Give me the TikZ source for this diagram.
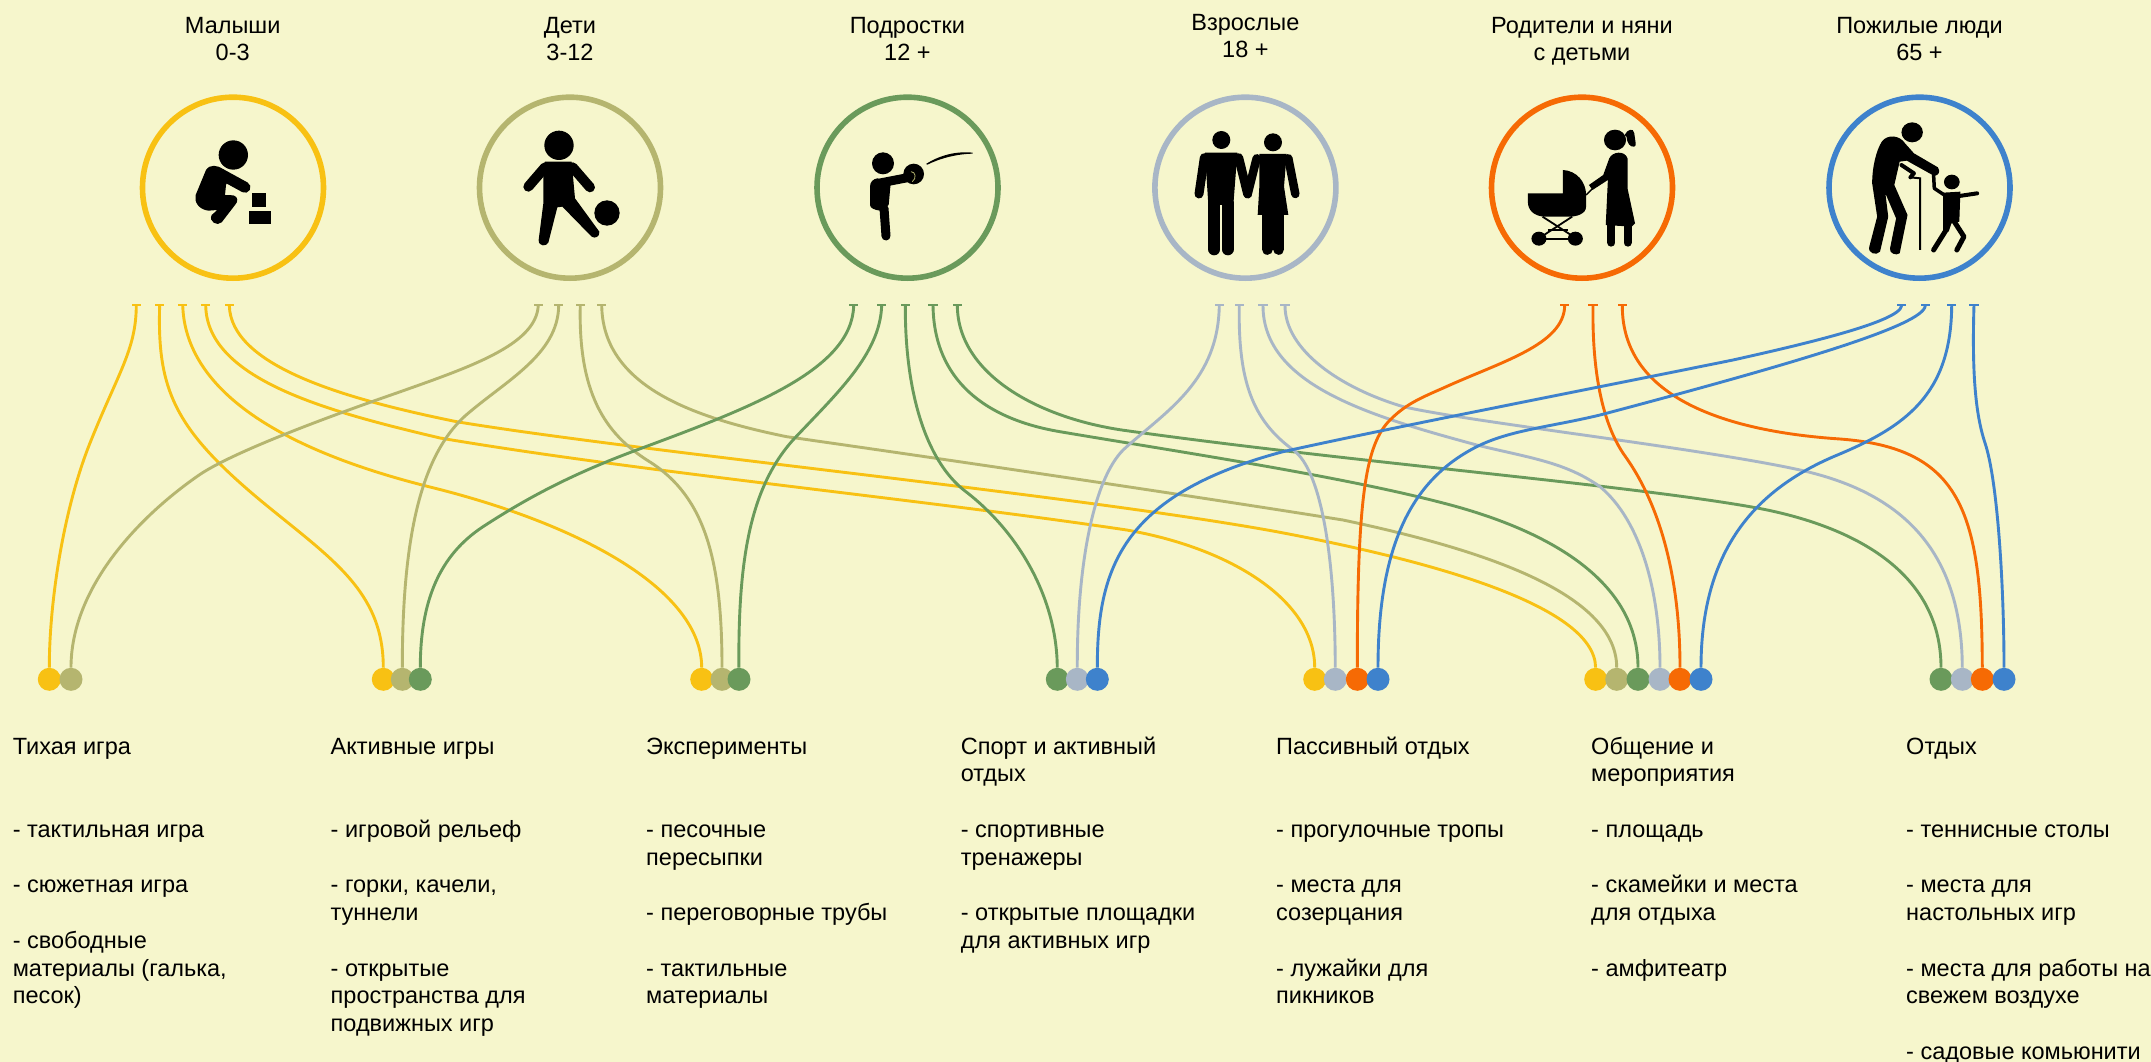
\documentclass[tikz,border=0pt]{standalone}
\usepackage{fontspec}
\setmainfont{Liberation Sans}
\definecolor{bgc}{HTML}{F6F6CC}
\definecolor{cY}{HTML}{F8C113}
\definecolor{cO}{HTML}{B5B56F}
\definecolor{cG}{HTML}{6A9A5B}
\definecolor{cS}{HTML}{A8B6C6}
\definecolor{cR}{HTML}{F66A04}
\definecolor{cB}{HTML}{3E82CC}
\tikzset{
  ring/.style={circle,draw=#1,line width=5.6pt,minimum size=181pt,inner sep=0pt},
  dotn/.style={circle,fill=#1,minimum size=23pt,inner sep=0pt},
  teen/.style={rectangle,fill=#1,minimum width=9.5pt,minimum height=2pt,inner sep=0pt},
  conn/.style={draw=#1,line width=2.9pt,line join=round},
  head/.style={align=center,font=\fontsize{23.5}{27.5}\selectfont,inner sep=0pt,anchor=north},
  col/.style={align=left,font=\fontsize{23.5}{27.75}\selectfont,inner sep=0pt,anchor=north west},
  lim/.style={draw=black,line cap=round,line join=round,line width=#1}
}
\newcommand{\fs}{\rule{0pt}{20pt}}
\begin{document}
\begin{tikzpicture}[x=1pt,y=-1pt]
\path[fill=bgc] (0,0) rectangle (2151,1062);
\useasboundingbox (0,0) rectangle (2151,1062);
% headers
\node[head] (h1) at (232.7,13) {\fs Малыши\\0-3};
\node[head] (h2) at (570,13) {\fs Дети\\3-12};
\node[head] (h3) at (907.4,13) {\fs Подростки\\12 +};
\node[head] (h4) at (1245.4,10) {\fs Взрослые\\18 +};
\node[head] (h5) at (1582,13) {\fs Родители и няни\\с детьми};
\node[head] (h6) at (1919.5,13) {\fs Пожилые люди\\65 +};
% rings
\node[ring=cY] (c1) at (233,187.7) {};
\node[ring=cO] (c2) at (570,187.7) {};
\node[ring=cG] (c3) at (907.5,187.7) {};
\node[ring=cS] (c4) at (1245.4,187.7) {};
\node[ring=cR] (c5) at (1582,187.7) {};
\node[ring=cB] (c6) at (1919.5,187.7) {};
% baby
\begin{scope}[shift={(130,90)},x=.33333pt,y=-.33333pt]
\fill (310,195) circle[radius=44];
\draw[lim=11] (272,252)--(345,292);
\fill (228,240) .. controls (240,222) and (262,225) .. (280,238) -- (300,260) -- (288,285) -- (285,315) -- (310,316) .. controls (325,320) and (325,335) .. (315,345) -- (275,397) .. controls (262,410) and (235,395) .. (245,375) -- (262,360) -- (235,362) .. controls (205,358) and (192,335) .. (197,315) -- cycle;
\fill (367,310) rectangle (408,352);
\fill (356,362) rectangle (423,403);
% child
\fill (1287,166) circle[radius=44];
\draw[lim=10] (1245,232)--(1195,290);
\draw[lim=10] (1328,232)--(1380,292);
\fill (1245,215) -- (1325,215) -- (1335,325) -- (1408,425) .. controls (1410,440) and (1395,447) .. (1385,440) -- (1297,350) -- (1282,352) -- (1255,458) .. controls (1250,470) and (1225,470) .. (1226,450) -- (1240,340) -- (1240,250) -- cycle;
\fill (1431,369) circle[radius=38];
\end{scope}
% teen, adults
\begin{scope}[shift={(800,90)},x=.33333pt,y=-.33333pt]
\fill (249,220) circle[radius=33];
\fill (341,252) circle[radius=31];
\draw[lim=9] (235,280)--(328,262);
\draw[cO,line width=.8pt] (333,245) .. controls (347,245) and (350,265) .. (337,275);
\fill (232,265) -- (272,280) -- (266,345) -- (240,362) .. controls (225,360) and (210,355) .. (210,345) -- (210,290) .. controls (210,275) and (220,267) .. (232,265) -- cycle;
\draw[lim=9] (252,355)--(258,438);
\fill (378,222) .. controls (420,195) and (470,183) .. (518,188) -- (518,191) .. controls (470,192) and (420,205) .. (382,224) -- cycle;
% man
\fill (1264,150) circle[radius=27];
\fill (1215,188) -- (1312,188) -- (1300,345) -- (1225,345) -- cycle;
\draw[lim=9] (1213,203)--(1197,312);
\draw[lim=9] (1316,203)--(1343,312);
\draw[lim=12] (1243,340)--(1243,478);
\draw[lim=12] (1283,340)--(1283,478);
% woman
\fill (1419,157) circle[radius=27];
\draw[lim=8.5] (1370,205)--(1343,312);
\draw[lim=8.5] (1465,205)--(1486,312);
\fill (1378,192)--(1460,192)--(1452,290)--(1465,375)--(1373,375)--(1378,290)--cycle;
\draw[lim=11] (1402,375)--(1402,478);
\draw[lim=11] (1436,375)--(1436,478);
\end{scope}
% mother and pensioner
\begin{scope}[shift={(1480,90)},x=.35714pt,y=-.33333pt]
\fill (378,150) circle[radius=31];
\fill (405,135) .. controls (412,118) and (430,112) .. (432,130) .. controls (433,145) and (440,170) .. (432,170) .. controls (420,172) and (412,160) .. (410,140) -- cycle;
\fill (362,205) .. controls (370,185) and (405,180) .. (413,205) -- (413,295) -- (434,400) -- (425,410) -- (352,405) -- (358,270) -- (315,300) -- (305,285) -- (345,255) -- cycle;
\draw[lim=8] (368,405)--(368,458);
\draw[lim=8] (413,405)--(413,458);
\fill (134,310) -- (232,310) -- (232,240) .. controls (270,242) and (297,275) .. (297,315) -- (297,350) .. controls (297,372) and (270,380) .. (250,380) -- (180,380) .. controls (150,378) and (134,360) .. (134,335) -- cycle;
\draw[black,line width=1.4pt] (297,315) -- (335,275);
\fill (165,446) circle[radius=21];
\fill (267,446) circle[radius=21];
\draw[black,line width=1.8pt] (175,380) -- (262,440);
\draw[black,line width=1.8pt] (258,380) -- (172,440);
\draw[black,line width=1.8pt] (165,446) -- (267,446);
\draw[black,line width=1.8pt] (190,420) -- (245,420);
% pensioner
\fill (1210,127) circle[radius=30];
\fill (1125,155) .. controls (1140,132) and (1175,135) .. (1190,160) -- (1215,190) -- (1282,232) .. controls (1290,245) and (1285,255) .. (1272,258) -- (1195,212) -- (1175,215) -- (1160,285) -- (1197,375) -- (1175,490) .. controls (1165,498) and (1145,490) .. (1148,475) -- (1165,385) -- (1135,310) -- (1143,380) -- (1120,485) .. controls (1110,498) and (1085,490) .. (1090,470) -- (1112,380) -- (1098,280) .. controls (1098,230) and (1110,180) .. (1125,155) -- cycle;
\draw[lim=4] (1180,225) -- (1215,250) -- (1205,262);
\draw[black,line width=2pt] (1205,262) -- (1232,265) -- (1232,480);
\draw[lim=3.5] (1270,255) -- (1272,295) -- (1300,315);
\fill (1321,276) circle[radius=22];
\draw[lim=4] (1342,318)--(1392,310);
\fill (1297,308) -- (1345,305) -- (1342,395) -- (1320,400) -- (1312,425) -- (1297,425) -- cycle;
\draw[lim=5] (1305,420)--(1270,480);
\draw[lim=5] (1328,395)--(1355,440)--(1335,480);
\end{scope}
% dots
\foreach \n/\xx/\cc in {d1/49.3/cY,d2/71/cO,d3/383.3/cY,d4/402.3/cO,d5/420.3/cG,d6/701.7/cY,d7/722/cO,d8/739/cG,d9/1057.3/cG,d10/1077.3/cS,d11/1097.3/cB,d12/1314.7/cY,d13/1335.3/cS,d14/1357.3/cR,d15/1378/cB,d16/1595.7/cY,d17/1616.7/cO,d18/1638/cG,d19/1660/cS,d20/1680/cR,d21/1701/cB,d22/1941/cG,d23/1962.3/cS,d24/1982.3/cR,d25/2004/cB}
  {\node[dotn=\cc] (\n) at (\xx,679.3) {};}
% tees
\foreach \n/\xx/\cc in {y1/136.3/cY,y2/159.7/cY,y3/182.7/cY,y4/205.7/cY,y5/229.3/cY,o1/538.3/cO,o2/558.7/cO,o3/580.3/cO,o4/601.7/cO,g1/853.7/cG,g2/881.7/cG,g3/905.3/cG,g4/933/cG,g5/957.3/cG,s1/1219.3/cS,s2/1239.3/cS,s3/1263/cS,s4/1285/cS,r1/1564.7/cR,r2/1593/cR,r3/1622.3/cR,b1/1901.7/cB,b2/1925.3/cB,b3/1951.7/cB,b4/1974/cB}
  {\node[teen=\cc] (\n) at (\xx,304.5) {};}
% connectors
\draw[conn=cY] (y1) .. controls (136,350) and (118,373) .. (90,443) .. controls (64,508) and (49.3,600) .. (d1);
\draw[conn=cY] (y2) .. controls (157,390) and (175,429) .. (260,500) .. controls (330,558) and (383.3,590) .. (d3);
\draw[conn=cY] (y3) .. controls (185,375) and (250,442) .. (430,487) .. controls (580,524) and (701.7,590) .. (d6);
\draw[conn=cY] (y4) .. controls (207,380) and (330,412) .. (440,438) .. controls (640,472) and (927,500) .. (1126.7,530) .. controls (1230,548) and (1314.7,600) .. (d12);
\draw[conn=cY] (y5) .. controls (231,365) and (340,398) .. (456.7,421.7) .. controls (640,452) and (1076,495) .. (1276.7,531.7) .. controls (1427,560) and (1595,605) .. (d16);
\draw[conn=cO] (o1) .. controls (536,345) and (470,367) .. (396.7,393) .. controls (310,423) and (225,456) .. (196.7,476.7) .. controls (135,520) and (71,590) .. (d2);
\draw[conn=cO] (o2) .. controls (558,355) and (505,381) .. (465,416) .. controls (420,457) and (402.3,540) .. (d4);
\draw[conn=cO] (o3) .. controls (578,400) and (610,437) .. (650,462) .. controls (705,497) and (722,560) .. (d7);
\draw[conn=cO] (o4) .. controls (603,385) and (690,417) .. (786.7,436.7) .. controls (950,460) and (1180,494) .. (1343,520) .. controls (1470,547) and (1616.7,590) .. (d17);
\draw[conn=cG] (g1) .. controls (852,370) and (750,408) .. (636.7,450) .. controls (575,473) and (530,496) .. (483,526.7) .. controls (440,555) and (420.3,600) .. (d5);
\draw[conn=cG] (g2) .. controls (880,355) and (835,395) .. (793,440) .. controls (750,488) and (738,560) .. (d8);
\draw[conn=cG] (g3) .. controls (905,390) and (925,460) .. (965,491) .. controls (1020,533) and (1057,600) .. (d9);
\draw[conn=cG] (g4) .. controls (934,380) and (985,419) .. (1060,431.7) .. controls (1180,452) and (1340,476) .. (1443,503) .. controls (1525,524) and (1638,570) .. (d18);
\draw[conn=cG] (g5) .. controls (958,375) and (1040,419) .. (1126.7,430.7) .. controls (1350,462) and (1620,484) .. (1750,506.7) .. controls (1850,524) and (1941,570) .. (d22);
\draw[conn=cS] (s1) .. controls (1218,380) and (1168,410) .. (1126.7,446.7) .. controls (1095,473) and (1077,560) .. (d10);
\draw[conn=cS] (s2) .. controls (1238,380) and (1252,420) .. (1293.3,450) .. controls (1322,471) and (1335,560) .. (d13);
\draw[conn=cS] (s3) .. controls (1263,385) and (1370,416) .. (1476.7,445) .. controls (1530,458) and (1565,462) .. (1600,486.7) .. controls (1640,520) and (1660,590) .. (d19);
\draw[conn=cS] (s4) .. controls (1285,350) and (1340,388) .. (1403.3,406.7) .. controls (1470,422) and (1700,448) .. (1800,470) .. controls (1890,490) and (1962,540) .. (d23);
\draw[conn=cR] (r1) .. controls (1564,345) and (1500,362) .. (1443.3,388) .. controls (1418,399) and (1405,405) .. (1390,420) .. controls (1365,445) and (1357.3,500) .. (d14);
\draw[conn=cR] (r2) .. controls (1592,380) and (1605,428) .. (1625,456) .. controls (1665,512) and (1680,590) .. (d20);
\draw[conn=cR] (r3) .. controls (1622,395) and (1720,431) .. (1840,439) .. controls (1960,448) and (1982,510) .. (d24);
\draw[conn=cB] (b1) .. controls (1900,322) and (1800,345) .. (1733,360) .. controls (1550,397) and (1390,428) .. (1283,451.7) .. controls (1120,495) and (1097.3,570) .. (d11);
\draw[conn=cB] (b2) .. controls (1924,325) and (1800,362) .. (1600,415) .. controls (1550,427) and (1510,430) .. (1476.7,446.7) .. controls (1415,478) and (1378,540) .. (d15);
\draw[conn=cB] (b3) .. controls (1951,395) and (1905,427) .. (1835,456) .. controls (1755,490) and (1701,550) .. (d21);
\draw[conn=cB] (b4) .. controls (1972,370) and (1975,413) .. (1985,443) .. controls (1998,482) and (2004,590) .. (d25);
% text columns
\node[col] (t1) at (12.6,734) {\fs Тихая игра\\[55.5pt]- тактильная игра\\[27.75pt]- сюжетная игра\\[27.75pt]- свободные\\материалы (галька,\\песок)};
\node[col] (t2) at (330.5,734) {\fs Активные игры\\[55.5pt]- игровой рельеф\\[27.75pt]- горки, качели,\\туннели\\[27.75pt]- открытые\\пространства для\\подвижных игр};
\node[col] (t3) at (646,734) {\fs Эксперименты\\[55.5pt]- песочные\\пересыпки\\[27.75pt]- переговорные трубы\\[27.75pt]- тактильные\\материалы};
\node[col] (t4) at (960.7,734) {\fs Спорт и активный\\отдых\\[27.75pt]- спортивные\\тренажеры\\[27.75pt]- открытые площадки\\для активных игр};
\node[col] (t5) at (1276,734) {\fs Пассивный отдых\\[55.5pt]- прогулочные тропы\\[27.75pt]- места для\\созерцания\\[27.75pt]- лужайки для\\пикников};
\node[col] (t6) at (1591,734) {\fs Общение и\\мероприятия\\[27.75pt]- площадь\\[27.75pt]- скамейки и места\\для отдыха\\[27.75pt]- амфитеатр};
\node[col] (t7) at (1906,734) {\fs Отдых\\[55.5pt]- теннисные столы\\[27.75pt]- места для\\настольных игр\\[27.75pt]- места для работы на\\свежем воздухе\\[27.75pt]- садовые комьюнити};
\end{tikzpicture}
\end{document}
